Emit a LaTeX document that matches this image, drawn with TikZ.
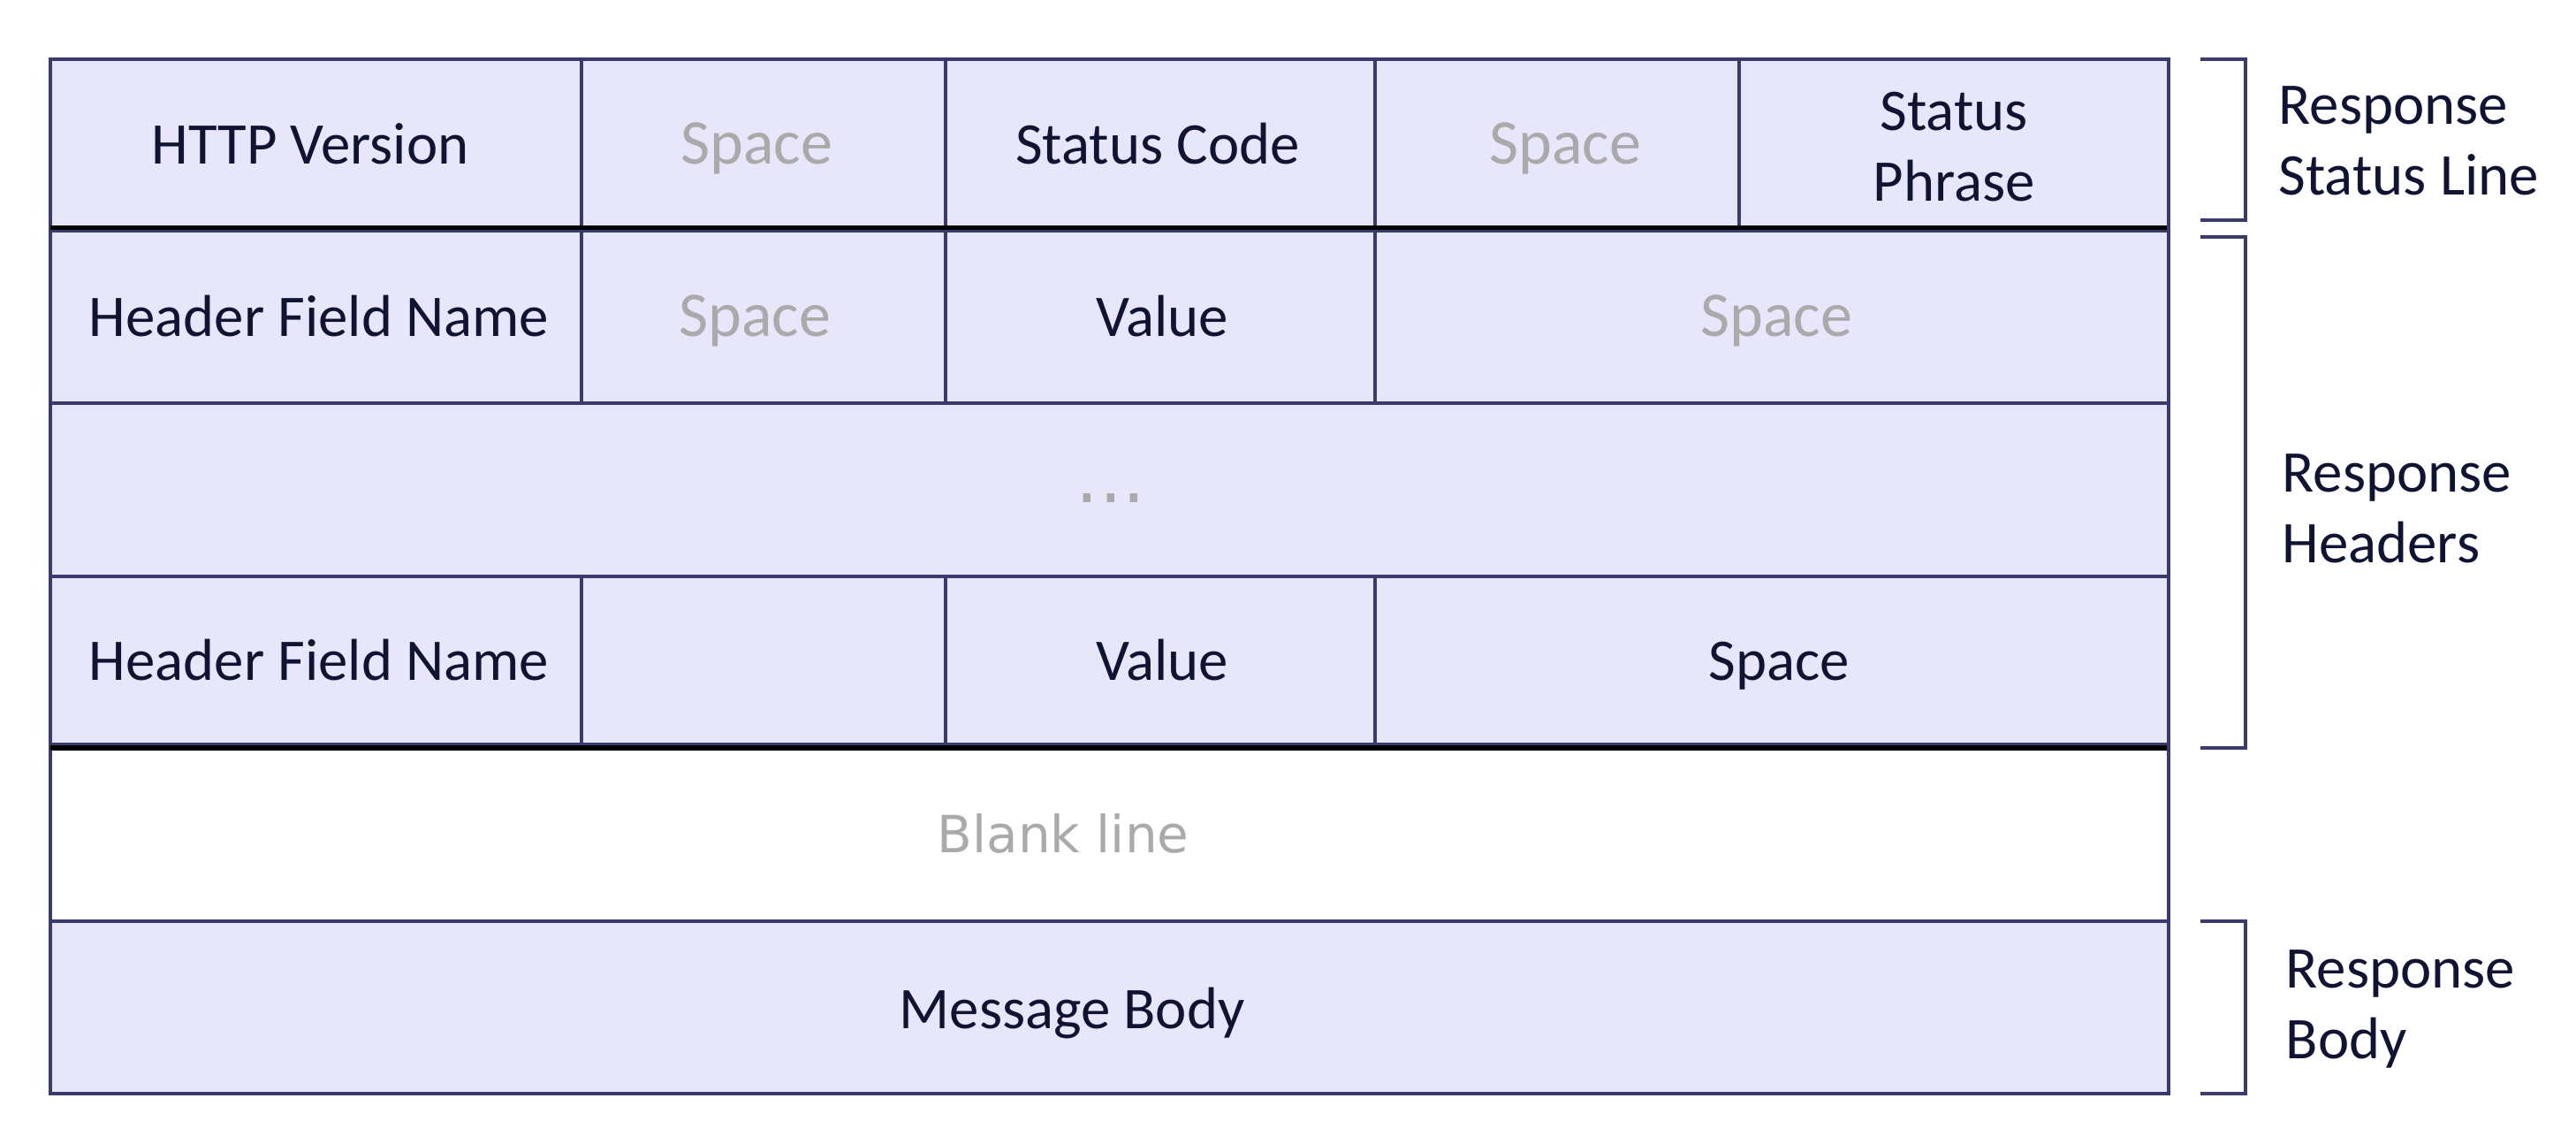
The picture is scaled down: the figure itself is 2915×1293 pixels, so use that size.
\documentclass[tikz,border=0pt]{standalone}
\usepackage{fontspec}
\setmainfont{Carlito}
\newfontfamily\dejavu{DejaVu Sans}
\definecolor{cellfill}{RGB}{231,230,251}
\definecolor{edge}{RGB}{59,59,107}
\definecolor{ink}{RGB}{16,20,50}
\definecolor{faint}{RGB}{170,170,170}
\tikzset{
 cellbox/.style={fill=cellfill,draw=edge,line width=1.05pt},
 blankbox/.style={fill=white,draw=edge,line width=1.05pt},
 blackrule/.style={draw=black,line width=1.45pt},
 bracketline/.style={draw=edge,line width=1.05pt},
 lbl/.style={inner sep=0pt,anchor=base,text=ink,font=\fontsize{19pt}{22.76pt}\selectfont},
 dim/.style={inner sep=0pt,anchor=base,text=faint,font=\fontsize{20.5pt}{24pt}\selectfont},
 side/.style={inner sep=0pt,anchor=base west,text=ink,font=\fontsize{19pt}{22.76pt}\selectfont},
}
\begin{document}
\begin{tikzpicture}[x=0.01cm,y=-0.01cm]
\useasboundingbox[fill=white] (0,0) rectangle (2915,1293);
% row 1: status line
\draw[cellbox] (57,67) rectangle (658,261);
\draw[cellbox] (658,67) rectangle (1070,261);
\draw[cellbox] (1070,67) rectangle (1556,261);
\draw[cellbox] (1556,67) rectangle (1968,261);
\draw[cellbox] (1968,67) rectangle (2454,261);
% row 2: header
\draw[cellbox] (57,261) rectangle (658,456);
\draw[cellbox] (658,261) rectangle (1070,456);
\draw[cellbox] (1070,261) rectangle (1556,456);
\draw[cellbox] (1556,261) rectangle (2454,456);
% row 3: dots
\draw[cellbox] (57,456) rectangle (2454,652);
% row 4: header
\draw[cellbox] (57,652) rectangle (658,842);
\draw[cellbox] (658,652) rectangle (1070,842);
\draw[cellbox] (1070,652) rectangle (1556,842);
\draw[cellbox] (1556,652) rectangle (2454,842);
% row 5: blank line
\draw[blankbox] (57,842) rectangle (2454,1042);
% row 6: body
\draw[cellbox] (57,1042) rectangle (2454,1237);
% thick separators
\draw[blackrule] (57,257.5) -- (2452,257.5);
\draw[blackrule] (57,846) -- (2452,846);
% brackets
\draw[bracketline] (2490,67) -- (2541,67) -- (2541,249) -- (2490,249);
\draw[bracketline] (2490,268) -- (2541,268) -- (2541,846) -- (2490,846);
\draw[bracketline] (2490,1042) -- (2541,1042) -- (2541,1237) -- (2490,1237);
% texts row 1
\node[lbl] (vers) at (351,185) {HTTP Version};
\node[dim] (spa) at (856,185) {Space};
\node[lbl] (code) at (1310,185) {Status Code};
\node[dim] (spb) at (1771,185) {Space};
\node[lbl] (phrase) at (2211,147) {\begin{tabular}[t]{@{}c@{}}Status\\Phrase\end{tabular}};
% row 2
\node[lbl] (hnamea) at (361,380) {Header Field Name};
\node[dim] (spc) at (854,380) {Space};
\node[lbl] (vala) at (1315,380) {Value};
\node[dim] (spd) at (2010,380) {Space};
% row 3
\node[inner sep=0pt,anchor=base,text=faint,font=\dejavu\fontsize{23pt}{26pt}\selectfont] (dots) at (1257,568) {.\kern0.3pt.\kern0.3pt.};
% row 4
\node[lbl] (hnameb) at (361,769) {Header Field Name};
\node[lbl] (valb) at (1315,769) {Value};
\node[lbl] (spe) at (2013,769) {Space};
% row 5, 6
\node[inner sep=0pt,anchor=base,text=faint,font=\dejavu\fontsize{16.5pt}{20pt}\selectfont] (blank) at (1203,964) {Blank line};
\node[lbl] (body) at (1213,1163) {Message Body};
% side labels
\node[side] (lstatus) at (2578,140) {\begin{tabular}[t]{@{}l@{}}Response\\Status Line\end{tabular}};
\node[side] (lheaders) at (2582,556) {\begin{tabular}[t]{@{}l@{}}Response\\Headers\end{tabular}};
\node[side] (lbody) at (2586,1117) {\begin{tabular}[t]{@{}l@{}}Response\\Body\end{tabular}};
\end{tikzpicture}
\end{document}
